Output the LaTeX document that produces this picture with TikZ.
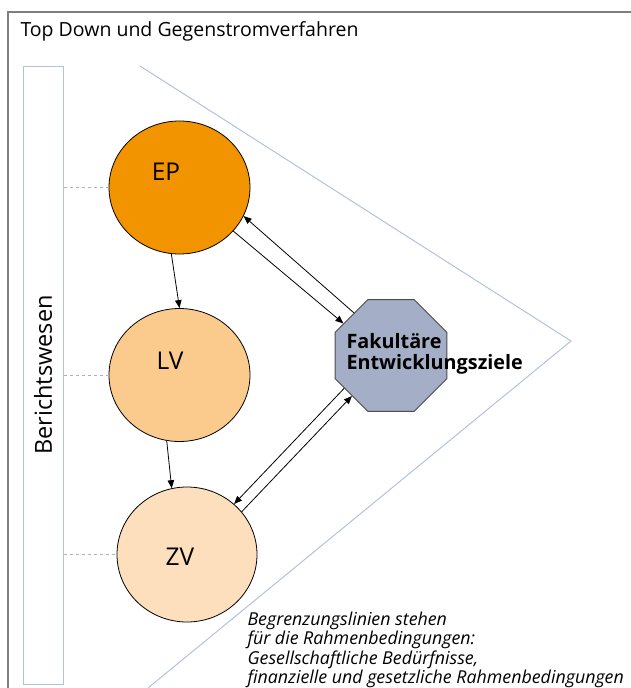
\documentclass[tikz,border=0pt]{standalone}
\usepackage{fontspec}
\setmainfont{Open Sans}
\usetikzlibrary{shapes.geometric,arrows.meta}

\definecolor{epfarbe}{HTML}{F29400}
\definecolor{lvfarbe}{HTML}{FACB8C}
\definecolor{zvfarbe}{HTML}{FDDFBD}
\definecolor{zielfarbe}{HTML}{A5AEC7}
\definecolor{rahmen}{HTML}{B3C1DE}
\definecolor{rand}{HTML}{7F7F7F}

\begin{document}
\begin{tikzpicture}[x=1pt,y=-1pt]
	\tikzset{ebene/.style={draw=black,line width=0.8pt,ellipse,inner sep=0pt,minimum width=141pt,minimum height=133pt}}
	\tikzset{kuerzel/.style={font=\fontsize{24.5}{24.5}\selectfont}}
	\tikzset{pfeil/.style={line width=0.8pt,-{Triangle[length=8pt,width=6.5pt]}}}
	\useasboundingbox (0,0) rectangle (631,688);

	\draw[rand,line width=1.2pt] (8,688) -- (8,12) -- (631,12);
	\node[anchor=west,font=\fontsize{19.5}{19.5}\selectfont] (titel) at (17,31) {Top Down und Gegenstromverfahren};

	\node[draw=rahmen,line width=1pt,minimum width=40pt,minimum height=618pt,inner sep=0pt] (bw) at (43,375)
		{\rotatebox{90}{\fontsize{23.5}{23.5}\selectfont Berichtswesen}};

	\draw[rahmen,line width=1pt] (140,66) -- (571,341) -- (148,688);

	\node[ebene,fill=epfarbe] (ep) at (179.5,187.5) {};
	\node[ebene,fill=lvfarbe] (lv) at (179.5,375) {};
	\node[ebene,fill=zvfarbe,minimum width=140pt,minimum height=135pt] (zv) at (187,554.5) {};
	\node[kuerzel] (eptext) at (166,172) {EP};
	\node[kuerzel] (lvtext) at (170,361) {LV};
	\node[kuerzel] (zvtext) at (180,557) {ZV};

	\draw[gray!60,dashed,line width=0.8pt] (bw.east |- ep.west) -- (ep.west);
	\draw[gray!60,dashed,line width=0.8pt] (bw.east |- lv.west) -- (lv.west);
	\draw[gray!60,dashed,line width=0.8pt] (bw.east |- zv.west) -- (zv.west);

	\node[regular polygon,regular polygon sides=8,minimum size=121pt,inner sep=0pt,draw=black!70,line width=0.8pt,fill=zielfarbe] (ziel) at (391,355.5) {};
	\node[anchor=west,align=left,font=\bfseries\fontsize{19.8}{21}\selectfont] (zieltext) at (343,354) {Fakultäre\\Entwicklungsziele};

	\draw[pfeil] (ep.263) -- (lv.90);
	\draw[pfeil] (lv.259) -- (zv.103);
	\draw[pfeil] (ziel.131) -- (ep.-24);
	\draw[pfeil] (ep.-39) -- (ziel.146);
	\draw[pfeil] (ziel.215) -- (zv.47);
	\draw[pfeil] (zv.38) -- (ziel.226);

	\node[anchor=north west,align=left,font=\itshape\fontsize{17.8}{19.5}\selectfont] (hinweis) at (244,608)
		{Begrenzungslinien stehen\\für die Rahmenbedingungen:\\Gesellschaftliche Bedürfnisse,\\finanzielle und gesetzliche Rahmenbedingungen};
\end{tikzpicture}
\end{document}
